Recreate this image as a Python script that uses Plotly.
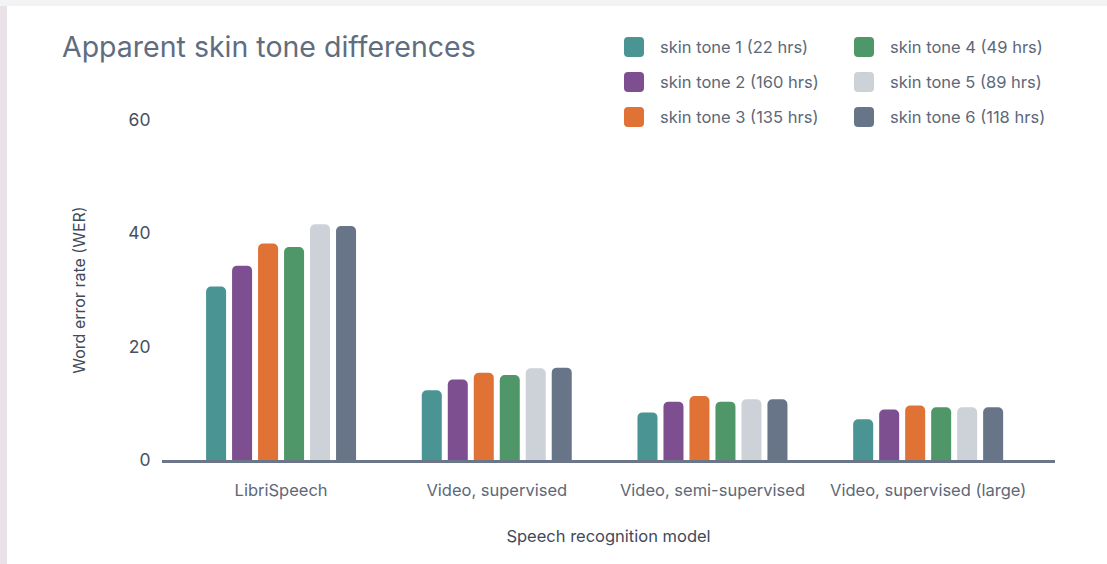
import plotly.graph_objects as go

# Word error rate by apparent skin tone for four speech recognition models
models = ["LibriSpeech", "Video, supervised", "Video, semi-supervised", "Video, supervised (large)"]
tone_names = [
    "skin tone 1 (22 hrs)",
    "skin tone 2 (160 hrs)",
    "skin tone 3 (135 hrs)",
    "skin tone 4 (49 hrs)",
    "skin tone 5 (89 hrs)",
    "skin tone 6 (118 hrs)",
]
tone1 = [30.6, 12.3, 8.4, 7.2]
tone2 = [34.3, 14.2, 10.3, 8.9]
tone3 = [38.2, 15.4, 11.3, 9.6]
tone4 = [37.6, 15.0, 10.3, 9.3]
tone5 = [41.6, 16.2, 10.7, 9.3]
tone6 = [41.3, 16.3, 10.7, 9.3]
y_ticks = [0, 20, 40, 60]

series = [tone1, tone2, tone3, tone4, tone5, tone6]
colors = ["#4a9494", "#7e4f90", "#e07235", "#4f9668", "#cdd2d9", "#687588"]

W, H = 1107, 564
L, R, T, B = 162, 52, 120, 104
FONT = "Inter"


def px_x(p):
    return (p - L) / (W - L - R)


def px_y(p):
    return (H - B - p) / (H - T - B)


fig = go.Figure()
for name, vals, col in zip(tone_names, series, colors):
    fig.add_trace(go.Bar(x=models, y=vals, name=name, marker=dict(color=col, line=dict(width=0)),
                         showlegend=False))

# rounded legend swatches
sw = 10
rr = 4
swatch_path = (f"M {-sw + rr},{-sw} L {sw - rr},{-sw} Q {sw},{-sw} {sw},{-sw + rr} "
               f"L {sw},{sw - rr} Q {sw},{sw} {sw - rr},{sw} L {-sw + rr},{sw} "
               f"Q {-sw},{sw} {-sw},{sw - rr} L {-sw},{-sw + rr} Q {-sw},{-sw} {-sw + rr},{-sw} Z")
shapes = []
annotations = []
for i, (name, col) in enumerate(zip(tone_names, colors)):
    colx = i // 3
    row = i % 3
    cx = 634 + 230 * colx
    cy = 47 + 35 * row
    shapes.append(dict(type="path", xref="paper", yref="paper", xsizemode="pixel", ysizemode="pixel",
                       xanchor=px_x(cx), yanchor=px_y(cy), path=swatch_path,
                       fillcolor=col, line=dict(width=0), layer="above"))
    annotations.append(dict(text=name, xref="paper", yref="paper", x=px_x(cx + 24), y=px_y(cy),
                            xanchor="left", yanchor="middle", showarrow=False,
                            font=dict(family=FONT, size=16.5, color="#5d6878")))

# textured frame edges around the card
shapes.append(dict(type="rect", xref="paper", yref="paper", x0=px_x(0), x1=px_x(7), y0=px_y(H), y1=px_y(0),
                   fillcolor="#e9e3e7", line=dict(width=0), layer="below"))
shapes.append(dict(type="rect", xref="paper", yref="paper", x0=px_x(0), x1=px_x(W), y0=px_y(6), y1=px_y(0),
                   fillcolor="#f3f2f4", line=dict(width=0), layer="below"))

fig.update_layout(
    width=W, height=H,
    margin=dict(l=L, r=R, t=T, b=B),
    paper_bgcolor="white", plot_bgcolor="white",
    barmode="group", bargap=0.277, bargroupgap=0.23, barcornerradius=5,
    font=dict(family=FONT, color="#5d6878"),
    title=dict(text="Apparent skin tone differences", xref="container", yref="container",
               x=62 / W, y=1 - 47 / H, xanchor="left", yanchor="middle",
               font=dict(family=FONT, size=28.5, color="#5f6d80")),
    xaxis=dict(range=[-0.552, 3.588], showline=True, linecolor="#6b7688", linewidth=2.5,
               showgrid=False, zeroline=False, ticks="outside", ticklen=13, tickcolor="rgba(0,0,0,0)",
               tickfont=dict(family=FONT, size=16.5, color="#5d6878"),
               title=dict(text="Speech recognition model", standoff=32,
                          font=dict(family=FONT, size=16.5, color="#3f4a5a"))),
    yaxis=dict(range=[0, 60], tickvals=y_ticks, showgrid=False, zeroline=False, showline=False,
               ticks="outside", ticklen=7, tickcolor="rgba(0,0,0,0)",
               tickfont=dict(family=FONT, size=17.5, color="#46505f"),
               title=dict(text="Word error rate (WER)", standoff=38,
                          font=dict(family=FONT, size=16, color="#3f4a5a"))),
    shapes=shapes,
    annotations=annotations,
)

fig.write_html("out.html")
